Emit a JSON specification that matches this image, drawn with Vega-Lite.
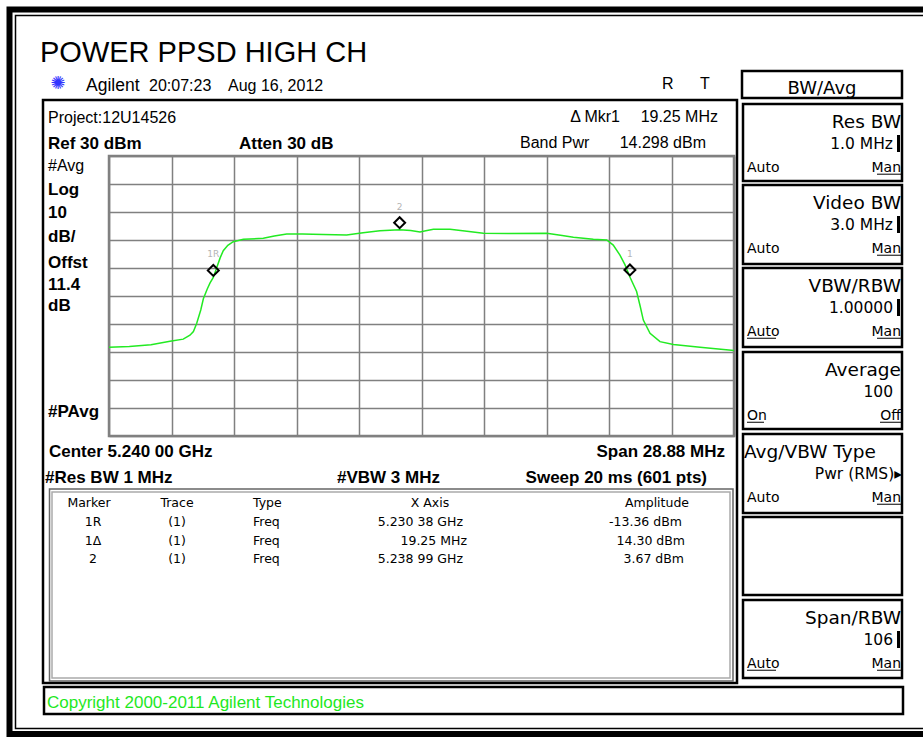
{
  "$schema": "https://vega.github.io/schema/vega-lite/v6.json",
  "width": 625,
  "height": 280,
  "autosize": {"type": "none"},
  "padding": {"left": 109, "top": 156, "right": 189, "bottom": 303},
  "background": "white",
  "view": {"stroke": "#808080", "strokeWidth": 2.5},
  "config": {"font": "Liberation Sans"},
  "resolve": {"scale": {"x": "independent", "y": "independent"}},
  "datasets": {
    "trace": [
      {"freq": 5225.56, "dbm": -38.3}, {"freq": 5226.5, "dbm": -38.0}, {"freq": 5227.5, "dbm": -37.4},
      {"freq": 5228.38, "dbm": -36.2}, {"freq": 5228.99, "dbm": -35.4}, {"freq": 5229.3, "dbm": -34.0},
      {"freq": 5229.46, "dbm": -32.7}, {"freq": 5229.61, "dbm": -29.8}, {"freq": 5229.8, "dbm": -25.0},
      {"freq": 5229.92, "dbm": -21.0}, {"freq": 5230.1, "dbm": -17.5}, {"freq": 5230.23, "dbm": -15.3},
      {"freq": 5230.38, "dbm": -13.36}, {"freq": 5230.54, "dbm": -9.8}, {"freq": 5230.7, "dbm": -6.3},
      {"freq": 5230.84, "dbm": -3.8}, {"freq": 5231.05, "dbm": -1.9}, {"freq": 5231.3, "dbm": -0.6},
      {"freq": 5231.77, "dbm": 0.25}, {"freq": 5232.69, "dbm": 0.6}, {"freq": 5233.2, "dbm": 1.4},
      {"freq": 5233.77, "dbm": 2.1}, {"freq": 5234.5, "dbm": 2.1}, {"freq": 5235.46, "dbm": 2.0},
      {"freq": 5236.54, "dbm": 1.8}, {"freq": 5237.3, "dbm": 2.6}, {"freq": 5238.08, "dbm": 3.3},
      {"freq": 5238.99, "dbm": 3.67}, {"freq": 5239.5, "dbm": 3.4}, {"freq": 5239.93, "dbm": 2.9},
      {"freq": 5240.2, "dbm": 3.3}, {"freq": 5240.55, "dbm": 3.8}, {"freq": 5241.32, "dbm": 3.8},
      {"freq": 5242.0, "dbm": 3.2}, {"freq": 5242.86, "dbm": 2.4}, {"freq": 5244.0, "dbm": 2.3},
      {"freq": 5245.79, "dbm": 2.4}, {"freq": 5246.5, "dbm": 1.6}, {"freq": 5247.02, "dbm": 1.0},
      {"freq": 5247.94, "dbm": 0.25}, {"freq": 5248.56, "dbm": 0.0}, {"freq": 5248.86, "dbm": -1.8},
      {"freq": 5249.17, "dbm": -5.4}, {"freq": 5249.4, "dbm": -8.8}, {"freq": 5249.63, "dbm": -13.2},
      {"freq": 5249.94, "dbm": -18.4}, {"freq": 5250.1, "dbm": -23.5}, {"freq": 5250.25, "dbm": -28.6},
      {"freq": 5250.56, "dbm": -33.3}, {"freq": 5251.02, "dbm": -36.3}, {"freq": 5251.64, "dbm": -37.3},
      {"freq": 5252.87, "dbm": -38.3}, {"freq": 5254.44, "dbm": -39.5}
    ],
    "markers": [
      {"marker": "1R", "freq": 5230.38, "dbm": -13.36},
      {"marker": "1", "freq": 5249.63, "dbm": -13.2},
      {"marker": "2", "freq": 5238.99, "dbm": 3.67}
    ],
    "frames": [
      {"kind": "outer", "x": -1.592, "x2": 13.296, "y": -5.232, "y2": 20.643},
      {"kind": "outerThin", "x": -1.496, "x2": 13.296, "y": -5.018, "y2": 20.446},
      {"kind": "panel", "x": -1.056, "x2": 10.048, "y": -2.0, "y2": 18.821},
      {"kind": "tableOuter", "x": -0.952, "x2": 9.984, "y": 11.893, "y2": 18.75},
      {"kind": "tableInner", "x": -0.912, "x2": 9.936, "y": 12.0, "y2": 18.643},
      {"kind": "key", "x": 10.128, "x2": 12.688, "y": -3.036, "y2": -2.071},
      {"kind": "key", "x": 10.144, "x2": 12.688, "y": -1.857, "y2": 0.893},
      {"kind": "key", "x": 10.144, "x2": 12.688, "y": 1.036, "y2": 3.857},
      {"kind": "key", "x": 10.144, "x2": 12.688, "y": 4.0, "y2": 6.821},
      {"kind": "key", "x": 10.144, "x2": 12.688, "y": 7.0, "y2": 9.75},
      {"kind": "key", "x": 10.144, "x2": 12.688, "y": 9.929, "y2": 12.75},
      {"kind": "key", "x": 10.144, "x2": 12.688, "y": 12.893, "y2": 15.679},
      {"kind": "key", "x": 10.144, "x2": 12.688, "y": 15.857, "y2": 18.643},
      {"kind": "key", "x": -1.04, "x2": 12.704, "y": 18.964, "y2": 19.929}
    ],
    "underlines": [
      {"x": 12.288, "x2": 12.672, "y": 0.65},
      {"x": 12.288, "x2": 12.672, "y": 3.544},
      {"x": 10.208, "x2": 10.672, "y": 6.509},
      {"x": 12.288, "x2": 12.672, "y": 6.509},
      {"x": 10.208, "x2": 10.48, "y": 9.509},
      {"x": 12.336, "x2": 12.672, "y": 9.509},
      {"x": 12.288, "x2": 12.672, "y": 12.437},
      {"x": 10.208, "x2": 10.672, "y": 18.366},
      {"x": 12.288, "x2": 12.672, "y": 18.366}
    ],
    "bars": [
      {"x": 12.632, "y": -0.75, "y2": -0.143},
      {"x": 12.632, "y": 2.143, "y2": 2.75},
      {"x": 12.632, "y": 5.107, "y2": 5.714},
      {"x": 12.632, "y": 16.964, "y2": 17.571}
    ],
    "texts": [
      {"role": "title", "text": "POWER PPSD HIGH CH", "x": -1.104, "y": -3.357},
      {"role": "brand", "text": "Agilent", "x": -0.368, "y": -2.321},
      {"role": "info", "text": "20:07:23", "x": 0.64, "y": -2.321},
      {"role": "info", "text": "Aug 16, 2012", "x": 1.904, "y": -2.321},
      {"role": "info", "text": "R", "x": 8.848, "y": -2.393},
      {"role": "info", "text": "T", "x": 9.456, "y": -2.393},
      {"role": "info", "text": "Project:12U14526", "x": -0.976, "y": -1.179},
      {"role": "info", "text": "Band Pwr", "x": 6.576, "y": -0.286},
      {"role": "info", "text": "#Avg", "x": -0.976, "y": 0.536},
      {"role": "infoR", "text": "Δ Mkr1", "x": 8.176, "y": -1.214},
      {"role": "infoR", "text": "19.25 MHz", "x": 9.744, "y": -1.214},
      {"role": "infoR", "text": "14.298 dBm", "x": 9.552, "y": -0.286},
      {"role": "bold", "text": "Ref 30 dBm", "x": -0.976, "y": -0.25},
      {"role": "bold", "text": "Atten 30 dB", "x": 2.08, "y": -0.25},
      {"role": "bold", "text": "Log", "x": -0.976, "y": 1.393},
      {"role": "bold", "text": "10", "x": -0.976, "y": 2.214},
      {"role": "bold", "text": "dB/", "x": -0.976, "y": 3.071},
      {"role": "bold", "text": "Offst", "x": -0.976, "y": 4.0},
      {"role": "bold", "text": "11.4", "x": -0.976, "y": 4.786},
      {"role": "bold", "text": "dB", "x": -0.976, "y": 5.536},
      {"role": "bold", "text": "#PAvg", "x": -0.976, "y": 9.321},
      {"role": "bold", "text": "Center 5.240 00 GHz", "x": -0.96, "y": 10.75},
      {"role": "bold", "text": "#Res BW 1 MHz", "x": -1.024, "y": 11.679},
      {"role": "bold", "text": "#VBW 3 MHz", "x": 3.648, "y": 11.679},
      {"role": "boldR", "text": "Span 28.88 MHz", "x": 9.856, "y": 10.75},
      {"role": "boldR", "text": "Sweep 20 ms (601 pts)", "x": 9.568, "y": 11.679},
      {"role": "keyHead", "text": "BW/Avg", "x": 11.408, "y": -2.214},
      {"role": "keyTitle", "text": "Res BW", "x": 12.672, "y": -1.0},
      {"role": "keyTitle", "text": "Video BW", "x": 12.672, "y": 1.893},
      {"role": "keyTitle", "text": "VBW/RBW", "x": 12.672, "y": 4.857},
      {"role": "keyTitle", "text": "Average", "x": 12.672, "y": 7.857},
      {"role": "keyTitle", "text": "Span/RBW", "x": 12.672, "y": 16.714},
      {"role": "keyTitleL", "text": "Avg/VBW Type", "x": 10.16, "y": 10.786},
      {"role": "keyValue", "text": "1.0 MHz", "x": 12.544, "y": -0.25},
      {"role": "keyValue", "text": "3.0 MHz", "x": 12.544, "y": 2.643},
      {"role": "keyValue", "text": "1.00000", "x": 12.544, "y": 5.607},
      {"role": "keyValue", "text": "100", "x": 12.544, "y": 8.607},
      {"role": "keyValue", "text": "Pwr (RMS)▸", "x": 12.688, "y": 11.536},
      {"role": "keyValue", "text": "106", "x": 12.544, "y": 17.464},
      {"role": "keyOpt", "text": "Auto", "x": 10.208, "y": 0.571},
      {"role": "keyOpt", "text": "Auto", "x": 10.208, "y": 3.464},
      {"role": "keyOpt", "text": "Auto", "x": 10.208, "y": 6.429},
      {"role": "keyOpt", "text": "On", "x": 10.208, "y": 9.429},
      {"role": "keyOpt", "text": "Auto", "x": 10.208, "y": 12.357},
      {"role": "keyOpt", "text": "Auto", "x": 10.208, "y": 18.286},
      {"role": "keyOptR", "text": "Man", "x": 12.672, "y": 0.571},
      {"role": "keyOptR", "text": "Man", "x": 12.672, "y": 3.464},
      {"role": "keyOptR", "text": "Man", "x": 12.672, "y": 6.429},
      {"role": "keyOptR", "text": "Off", "x": 12.672, "y": 9.429},
      {"role": "keyOptR", "text": "Man", "x": 12.672, "y": 12.357},
      {"role": "keyOptR", "text": "Man", "x": 12.672, "y": 18.286},
      {"role": "table", "text": "Marker", "x": -0.32, "y": 12.536},
      {"role": "table", "text": "Trace", "x": 1.088, "y": 12.536},
      {"role": "table", "text": "X Axis", "x": 5.136, "y": 12.536},
      {"role": "table", "text": "Amplitude", "x": 8.768, "y": 12.536},
      {"role": "table", "text": "1R", "x": -0.256, "y": 13.214},
      {"role": "table", "text": "1Δ", "x": -0.256, "y": 13.875},
      {"role": "table", "text": "2", "x": -0.256, "y": 14.536},
      {"role": "table", "text": "(1)", "x": 1.088, "y": 13.214},
      {"role": "table", "text": "(1)", "x": 1.088, "y": 13.875},
      {"role": "table", "text": "(1)", "x": 1.088, "y": 14.536},
      {"role": "tableL", "text": "Type", "x": 2.304, "y": 12.536},
      {"role": "tableL", "text": "Freq", "x": 2.304, "y": 13.214},
      {"role": "tableL", "text": "Freq", "x": 2.304, "y": 13.875},
      {"role": "tableL", "text": "Freq", "x": 2.304, "y": 14.536},
      {"role": "tableR", "text": "5.230 38 GHz", "x": 5.664, "y": 13.214},
      {"role": "tableR", "text": "19.25 MHz", "x": 5.728, "y": 13.875},
      {"role": "tableR", "text": "5.238 99 GHz", "x": 5.664, "y": 14.536},
      {"role": "tableR", "text": "-13.36 dBm", "x": 9.168, "y": 13.214},
      {"role": "tableR", "text": "14.30 dBm", "x": 9.216, "y": 13.875},
      {"role": "tableR", "text": "3.67 dBm", "x": 9.2, "y": 14.536},
      {"role": "copyright", "text": "Copyright 2000-2011 Agilent Technologies", "x": -0.992, "y": 19.714},
      {"role": "icon", "text": "✺", "x": -0.816, "y": -2.571}
    ]
  },
  "layer": [
    {
      "encoding": {
        "x": {"field": "x", "type": "quantitative", "scale": {"domain": [0, 10], "nice": false, "zero": false}, "axis": null},
        "y": {"field": "y", "type": "quantitative", "scale": {"domain": [0, 10], "reverse": true, "nice": false, "zero": false}, "axis": null}
      },
      "layer": [
        {"data": {"name": "frames"}, "transform": [{"filter": "datum.kind === 'outer'"}], "mark": {"type": "rect", "filled": false, "stroke": "black", "strokeWidth": 6}, "encoding": {"x2": {"field": "x2"}, "y2": {"field": "y2"}}},
        {"data": {"name": "frames"}, "transform": [{"filter": "datum.kind === 'outerThin'"}], "mark": {"type": "rect", "filled": false, "stroke": "black", "strokeWidth": 1.5}, "encoding": {"x2": {"field": "x2"}, "y2": {"field": "y2"}}},
        {"data": {"name": "frames"}, "transform": [{"filter": "datum.kind === 'panel'"}], "mark": {"type": "rect", "filled": false, "stroke": "black", "strokeWidth": 2.5}, "encoding": {"x2": {"field": "x2"}, "y2": {"field": "y2"}}},
        {"data": {"name": "frames"}, "transform": [{"filter": "datum.kind === 'tableOuter'"}], "mark": {"type": "rect", "filled": false, "stroke": "#666666", "strokeWidth": 1.5}, "encoding": {"x2": {"field": "x2"}, "y2": {"field": "y2"}}},
        {"data": {"name": "frames"}, "transform": [{"filter": "datum.kind === 'tableInner'"}], "mark": {"type": "rect", "filled": false, "stroke": "#aaaaaa", "strokeWidth": 1.5}, "encoding": {"x2": {"field": "x2"}, "y2": {"field": "y2"}}},
        {"data": {"name": "frames"}, "transform": [{"filter": "datum.kind === 'key'"}], "mark": {"type": "rect", "filled": false, "stroke": "black", "strokeWidth": 2.5}, "encoding": {"x2": {"field": "x2"}, "y2": {"field": "y2"}}},
        {"data": {"name": "underlines"}, "mark": {"type": "rule", "color": "black", "strokeWidth": 1}, "encoding": {"x2": {"field": "x2"}}},
        {"data": {"name": "bars"}, "mark": {"type": "rule", "color": "black", "strokeWidth": 3}, "encoding": {"y2": {"field": "y2"}}},
        {"data": {"name": "texts"}, "transform": [{"filter": "datum.role === 'title'"}], "mark": {"type": "text", "align": "left", "baseline": "alphabetic", "font": "Liberation Sans", "fontSize": 29, "color": "black"}, "encoding": {"text": {"field": "text"}}},
        {"data": {"name": "texts"}, "transform": [{"filter": "datum.role === 'brand'"}], "mark": {"type": "text", "align": "left", "baseline": "alphabetic", "font": "Liberation Sans", "fontSize": 17.5, "color": "black"}, "encoding": {"text": {"field": "text"}}},
        {"data": {"name": "texts"}, "transform": [{"filter": "datum.role === 'info'"}], "mark": {"type": "text", "align": "left", "baseline": "alphabetic", "font": "Liberation Sans", "fontSize": 16, "color": "black"}, "encoding": {"text": {"field": "text"}}},
        {"data": {"name": "texts"}, "transform": [{"filter": "datum.role === 'infoR'"}], "mark": {"type": "text", "align": "right", "baseline": "alphabetic", "font": "Liberation Sans", "fontSize": 16, "color": "black"}, "encoding": {"text": {"field": "text"}}},
        {"data": {"name": "texts"}, "transform": [{"filter": "datum.role === 'bold'"}], "mark": {"type": "text", "align": "left", "baseline": "alphabetic", "font": "Liberation Sans", "fontSize": 17, "fontWeight": "bold", "color": "black"}, "encoding": {"text": {"field": "text"}}},
        {"data": {"name": "texts"}, "transform": [{"filter": "datum.role === 'boldR'"}], "mark": {"type": "text", "align": "right", "baseline": "alphabetic", "font": "Liberation Sans", "fontSize": 17, "fontWeight": "bold", "color": "black"}, "encoding": {"text": {"field": "text"}}},
        {"data": {"name": "texts"}, "transform": [{"filter": "datum.role === 'keyHead'"}], "mark": {"type": "text", "align": "center", "baseline": "alphabetic", "font": "DejaVu Sans", "fontSize": 18, "color": "black"}, "encoding": {"text": {"field": "text"}}},
        {"data": {"name": "texts"}, "transform": [{"filter": "datum.role === 'keyTitle'"}], "mark": {"type": "text", "align": "right", "baseline": "alphabetic", "font": "DejaVu Sans", "fontSize": 18.5, "color": "black"}, "encoding": {"text": {"field": "text"}}},
        {"data": {"name": "texts"}, "transform": [{"filter": "datum.role === 'keyTitleL'"}], "mark": {"type": "text", "align": "left", "baseline": "alphabetic", "font": "DejaVu Sans", "fontSize": 18.5, "color": "black"}, "encoding": {"text": {"field": "text"}}},
        {"data": {"name": "texts"}, "transform": [{"filter": "datum.role === 'keyValue'"}], "mark": {"type": "text", "align": "right", "baseline": "alphabetic", "font": "DejaVu Sans", "fontSize": 15.5, "color": "black"}, "encoding": {"text": {"field": "text"}}},
        {"data": {"name": "texts"}, "transform": [{"filter": "datum.role === 'keyOpt'"}], "mark": {"type": "text", "align": "left", "baseline": "alphabetic", "font": "DejaVu Sans", "fontSize": 14, "color": "black"}, "encoding": {"text": {"field": "text"}}},
        {"data": {"name": "texts"}, "transform": [{"filter": "datum.role === 'keyOptR'"}], "mark": {"type": "text", "align": "right", "baseline": "alphabetic", "font": "DejaVu Sans", "fontSize": 14, "color": "black"}, "encoding": {"text": {"field": "text"}}},
        {"data": {"name": "texts"}, "transform": [{"filter": "datum.role === 'table'"}], "mark": {"type": "text", "align": "center", "baseline": "alphabetic", "font": "DejaVu Sans", "fontSize": 12.5, "color": "black"}, "encoding": {"text": {"field": "text"}}},
        {"data": {"name": "texts"}, "transform": [{"filter": "datum.role === 'tableL'"}], "mark": {"type": "text", "align": "left", "baseline": "alphabetic", "font": "DejaVu Sans", "fontSize": 12.5, "color": "black"}, "encoding": {"text": {"field": "text"}}},
        {"data": {"name": "texts"}, "transform": [{"filter": "datum.role === 'tableR'"}], "mark": {"type": "text", "align": "right", "baseline": "alphabetic", "font": "DejaVu Sans", "fontSize": 12.5, "color": "black"}, "encoding": {"text": {"field": "text"}}},
        {"data": {"name": "texts"}, "transform": [{"filter": "datum.role === 'copyright'"}], "mark": {"type": "text", "align": "left", "baseline": "alphabetic", "font": "Liberation Sans", "fontSize": 17, "color": "#1ee81e"}, "encoding": {"text": {"field": "text"}}},
        {"data": {"name": "texts"}, "transform": [{"filter": "datum.role === 'icon'"}], "mark": {"type": "text", "align": "center", "baseline": "middle", "font": "DejaVu Sans", "fontSize": 18, "color": "#3333ff"}, "encoding": {"text": {"field": "text"}}}
      ]
    },
    {
      "encoding": {
        "x": {"field": "freq", "type": "quantitative", "scale": {"domain": [5225.56, 5254.44], "nice": false, "zero": false},
              "axis": {"values": [5225.56, 5228.448, 5231.336, 5234.224, 5237.112, 5240.0, 5242.888, 5245.776, 5248.664, 5251.552, 5254.44], "grid": true, "gridColor": "#808080", "gridWidth": 1.5, "gridOpacity": 1, "labels": false, "ticks": false, "domain": false, "title": null}},
        "y": {"field": "dbm", "type": "quantitative", "scale": {"domain": [-70, 30], "nice": false, "zero": false},
              "axis": {"values": [-70, -60, -50, -40, -30, -20, -10, 0, 10, 20, 30], "grid": true, "gridColor": "#808080", "gridWidth": 1.5, "gridOpacity": 1, "labels": false, "ticks": false, "domain": false, "title": null}}
      },
      "layer": [
        {"data": {"name": "trace"}, "mark": {"type": "line", "color": "#22ea22", "strokeWidth": 1.5}},
        {"data": {"name": "markers"}, "mark": {"type": "point", "shape": "diamond", "size": 120, "filled": false, "stroke": "black", "strokeWidth": 2, "opacity": 1, "yOffset": -7}},
        {"data": {"name": "markers"}, "mark": {"type": "text", "color": "#b5b5b5", "fontSize": 9, "font": "DejaVu Sans", "baseline": "middle", "yOffset": -23}, "encoding": {"text": {"field": "marker"}}}
      ]
    }
  ]
}
